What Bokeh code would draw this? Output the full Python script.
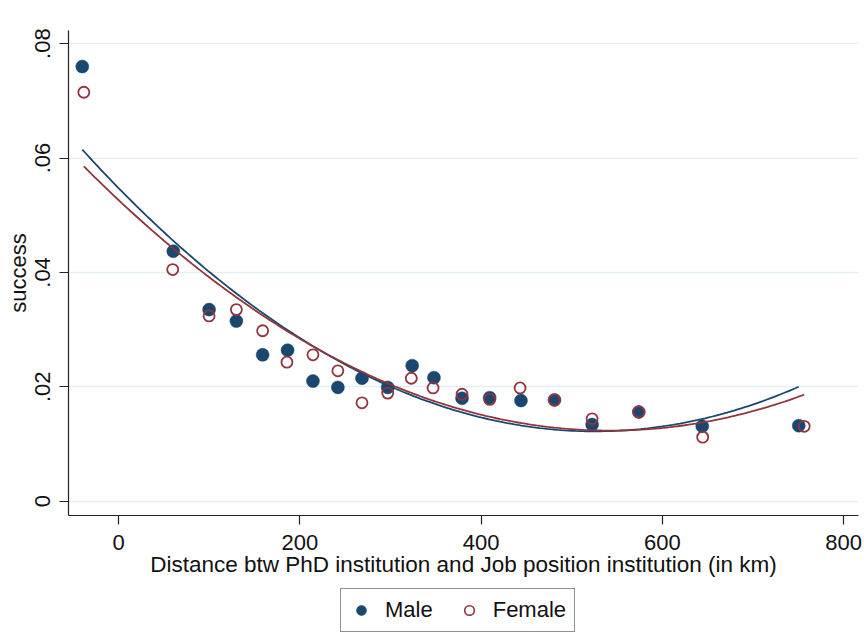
import numpy as np
from bokeh.plotting import figure
from bokeh.layouts import column
from bokeh.models import Range1d, FixedTicker, Legend, LegendItem
from bokeh.embed import file_html
from bokeh.resources import INLINE

# ---- data ----
male_x = [-40, 60.4, 99.9, 130, 159, 186.5, 214.5, 242, 268.6, 297, 324, 348,
          379, 409.5, 444, 481, 522.5, 574, 644, 750.5]
male_y = [0.0760, 0.0437, 0.0335, 0.0315, 0.0256, 0.0264, 0.0210, 0.0199, 0.0215, 0.0199,
          0.0237, 0.0216, 0.0180, 0.0181, 0.0176, 0.0177, 0.0134, 0.0156, 0.0131, 0.0132]
female_x = [-38.3, 59.8, 99.9, 130, 159, 185.8, 214.5, 242, 268.6, 297, 323, 347,
            379, 409.5, 443, 481, 522.5, 574, 644.5, 756.5]
female_y = [0.0715, 0.0405, 0.0324, 0.0335, 0.0298, 0.0243, 0.0256, 0.0228, 0.0172, 0.0189,
            0.0215, 0.0198, 0.0187, 0.0178, 0.0198, 0.0177, 0.0144, 0.0156, 0.0112, 0.0131]

x_ticks = [0, 200, 400, 600, 800]
y_ticks = [0, 0.02, 0.04, 0.06, 0.08]
y_tick_labels = ["0", ".02", ".04", ".06", ".08"]
series_names = ["Male", "Female"]

NAVY = "#1a476f"
MAROON = "#90353b"
FONT = "Liberation Sans"
TXT = "#111111"

# quadratic fit lines computed from the data
def qfit(xv, yv):
    c = np.polyfit(xv, yv, 2)
    xs = np.linspace(min(xv), max(xv), 200)
    return xs, np.polyval(c, xs)

p = figure(width=864, height=584, output_backend="svg", toolbar_location=None,
           x_range=Range1d(-55.2, 816.4), y_range=Range1d(-0.0025, 0.0823),
           min_border_left=68, min_border_right=6, min_border_top=30, min_border_bottom=69)
p.outline_line_color = None
p.background_fill_color = "white"
p.border_fill_color = "white"

p.xgrid.visible = False
p.ygrid.grid_line_color = "#e6eef2"
p.ygrid.grid_line_width = 1.5

for ax in (p.xaxis[0], p.yaxis[0]):
    ax.axis_line_color = "#222222"
    ax.axis_line_width = 1.2
    ax.major_tick_line_color = "#222222"
    ax.major_tick_line_width = 1.2
    ax.major_tick_out = 9
    ax.major_tick_in = 0
    ax.minor_tick_line_color = None
    ax.major_label_text_font = FONT
    ax.major_label_text_font_size = "22px"
    ax.major_label_text_color = TXT
    ax.axis_label_text_font = FONT
    ax.axis_label_text_font_style = "normal"
    ax.axis_label_text_color = TXT

p.xaxis.axis_label_text_font_size = "22.5px"
p.yaxis.axis_label_text_font_size = "22px"
p.xaxis.ticker = FixedTicker(ticks=x_ticks)
p.yaxis.ticker = FixedTicker(ticks=y_ticks)
p.yaxis.major_label_overrides = dict(zip(y_ticks, y_tick_labels))
p.yaxis.major_label_orientation = "vertical"
p.xaxis.axis_label = "Distance btw PhD institution and Job position institution (in km)"
p.yaxis.axis_label = "success"
p.xaxis.major_label_standoff = 10
p.xaxis.axis_label_standoff = -1
p.yaxis.major_label_standoff = 9
p.yaxis.axis_label_standoff = 2

r_m = p.scatter(male_x, male_y, size=13, fill_color=NAVY, line_color=NAVY, line_width=0.5)
r_f = p.scatter(female_x, female_y, size=11, fill_color=None, line_color=MAROON, line_width=1.8)

mx, my = qfit(male_x, male_y)
fx, fy = qfit(female_x, female_y)
p.line(mx, my, line_color=NAVY, line_width=1.8)
p.line(fx, fy, line_color=MAROON, line_width=1.8)

# ---- legend strip below the plot ----
lg = figure(width=864, height=58, output_backend="svg", toolbar_location=None,
            x_range=Range1d(1000, 1001), y_range=Range1d(1, 2),
            x_axis_type=None, y_axis_type=None,
            min_border_left=0, min_border_right=0, min_border_top=0, min_border_bottom=0)
lg.outline_line_color = None
lg.grid.visible = False
lg.background_fill_color = "white"
lg.border_fill_color = "white"
# key markers; their points fall outside this strip's ranges, so only the key shows
lm = lg.scatter(male_x[:1], male_y[:1], size=11, fill_color=NAVY, line_color=NAVY)
lf = lg.scatter(female_x[:1], female_y[:1], size=9, fill_color=None, line_color=MAROON, line_width=1.6)

legend = Legend(items=[LegendItem(label=series_names[0], renderers=[lm]),
                       LegendItem(label=series_names[1], renderers=[lf])],
                orientation="horizontal", location=(272, 10),
                border_line_color="#222222", border_line_width=1.2,
                background_fill_color="white",
                padding=8, spacing=24, glyph_width=24, glyph_height=24,
                label_standoff=12, label_text_font=FONT, label_text_font_size="22px",
                label_text_color=TXT, margin=0)
lg.add_layout(legend)

layout = column(p, lg, spacing=0)
open("out.html", "w").write(file_html(layout, INLINE))
